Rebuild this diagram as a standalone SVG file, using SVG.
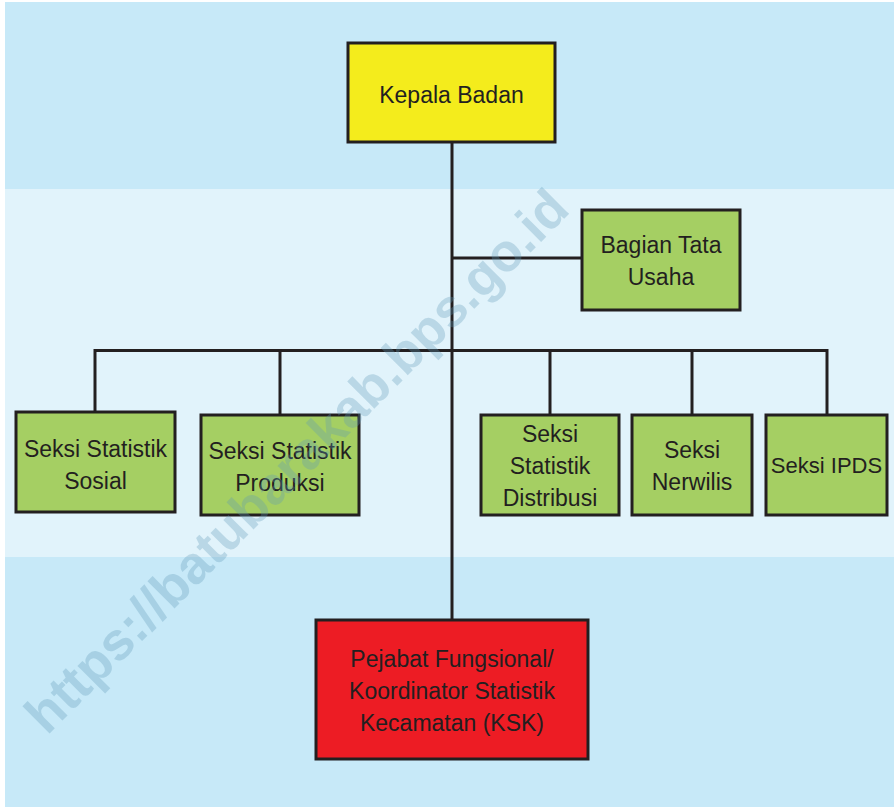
<svg xmlns="http://www.w3.org/2000/svg" width="894" height="807" viewBox="0 0 894 807">
<style>
.box{stroke:#231f20;stroke-width:3}
.y{fill:#f4ec1c}.g{fill:#a5cf63}.r{fill:#ed1c24}
.t{font-family:"Liberation Sans",Arial,sans-serif;font-size:23px;fill:#231f20;text-anchor:middle}
.ln{stroke:#231f20;stroke-width:3;fill:none}
.wm{font-family:"Liberation Sans",Arial,sans-serif;font-weight:bold;font-size:53px;fill:#5f9ab8;opacity:0.3}
</style>
<rect x="0" y="0" width="894" height="807" fill="#ffffff"/>
<rect x="5" y="2" width="889" height="805" fill="#c7e9f8"/>
<rect x="5" y="189" width="889" height="368" fill="#e1f3fb"/>
<g id="connectors">
<line class="ln" x1="452" y1="142" x2="452" y2="620"/>
<line class="ln" x1="452" y1="258" x2="582" y2="258"/>
<line class="ln" x1="95" y1="350.5" x2="827" y2="350.5"/>
<line class="ln" x1="95" y1="349" x2="95" y2="412"/>
<line class="ln" x1="280" y1="349" x2="280" y2="415"/>
<line class="ln" x1="550" y1="349" x2="550" y2="415"/>
<line class="ln" x1="692" y1="349" x2="692" y2="415"/>
<line class="ln" x1="827" y1="349" x2="827" y2="415"/>
</g>
<g id="kepala">
<rect class="box y" x="348" y="43" width="207" height="99"/>
<text class="t" x="451.5" y="103">Kepala Badan</text>
</g>
<g id="tatausaha">
<rect class="box g" x="582" y="210" width="158" height="100"/>
<text class="t" x="661" y="253">Bagian Tata</text>
<text class="t" x="661" y="285">Usaha</text>
</g>
<g id="sosial">
<rect class="box g" x="16" y="412" width="159" height="100"/>
<text class="t" x="95.5" y="457">Seksi Statistik</text>
<text class="t" x="95.5" y="489">Sosial</text>
</g>
<g id="produksi">
<rect class="box g" x="201" y="415" width="158" height="100"/>
<text class="t" x="280" y="459">Seksi Statistik</text>
<text class="t" x="280" y="491">Produksi</text>
</g>
<g id="distribusi">
<rect class="box g" x="481" y="415" width="138" height="100"/>
<text class="t" x="550" y="442">Seksi</text>
<text class="t" x="550" y="474">Statistik</text>
<text class="t" x="550" y="506">Distribusi</text>
</g>
<g id="nerwilis">
<rect class="box g" x="632" y="415" width="120" height="100"/>
<text class="t" x="692" y="458">Seksi</text>
<text class="t" x="692" y="490">Nerwilis</text>
</g>
<g id="ipds">
<rect class="box g" x="766" y="415" width="121" height="100"/>
<text class="t" x="826.5" y="473" style="font-size:22px">Seksi IPDS</text>
</g>
<g id="ksk">
<rect class="box r" x="316" y="620" width="272" height="139"/>
<text class="t" x="452" y="667">Pejabat Fungsional/</text>
<text class="t" x="452" y="699">Koordinator Statistik</text>
<text class="t" x="452" y="731">Kecamatan (KSK)</text>
</g>
<text class="wm" transform="translate(47,736) rotate(-45)">https://batubarakab.bps.go.id</text>
</svg>
